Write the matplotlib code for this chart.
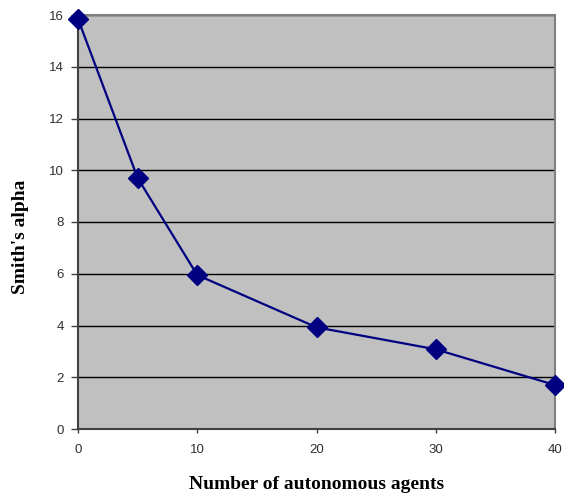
import matplotlib
matplotlib.use("Agg")
import matplotlib.pyplot as plt

agents = [0, 5, 10, 20, 30, 40]
alpha = [15.85, 9.7, 5.95, 3.93, 3.08, 1.7]
x_ticks = [0, 10, 20, 30, 40]
y_ticks = [0, 2, 4, 6, 8, 10, 12, 14, 16]

fig = plt.figure(figsize=(5.64, 5.00), dpi=100)
ax = fig.add_axes([78 / 564, 71 / 500, 477 / 564, 414 / 500])
ax.set_facecolor("#C0C0C0")

ax.plot(agents, alpha, color="#000080", lw=1.6, marker="D", ms=10,
        markerfacecolor="#000080", markeredgecolor="#000080", zorder=3,
        clip_on=False)

ax.set_xlim(0, 40)
ax.set_ylim(0, 16)
ax.set_xticks(x_ticks)
ax.set_yticks(y_ticks)
ax.yaxis.grid(True, color="black", lw=1.0)
ax.set_axisbelow(True)

for side in ("top", "right"):
    ax.spines[side].set_color("#808080")
    ax.spines[side].set_linewidth(1.5)
for side in ("left", "bottom"):
    ax.spines[side].set_color("#404040")
    ax.spines[side].set_linewidth(1.5)

ax.tick_params(axis="y", direction="out", length=5, width=1, color="#404040",
               labelsize=9.5, labelcolor="#303030", pad=5)
ax.tick_params(axis="x", direction="out", length=3, width=1, color="#404040",
               labelsize=9.5, labelcolor="#303030", pad=8)
for lab in ax.get_xticklabels() + ax.get_yticklabels():
    lab.set_family("Liberation Sans")

ax.set_ylabel("Smith's alpha", family="Liberation Serif", fontweight="bold",
              fontsize=14)
ax.yaxis.set_label_coords(-0.102, 0.465)
ax.set_xlabel("Number of autonomous agents",
              family="Liberation Serif", fontweight="bold", fontsize=14,
              labelpad=14)

fig.savefig("out.png", dpi=100)
